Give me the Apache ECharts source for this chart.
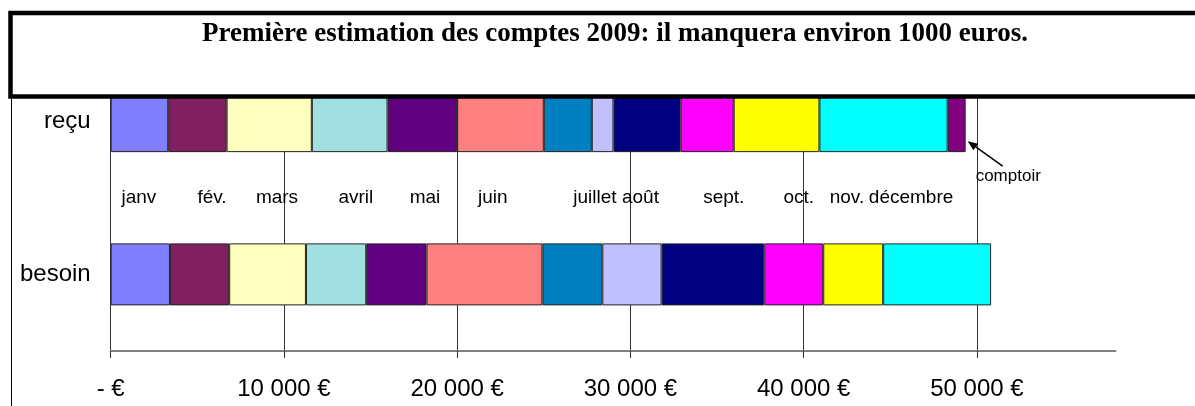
<!DOCTYPE html>
<html>
<head>
<meta charset="utf-8">
<title>Comptes 2009</title>
<script src="https://cdn.jsdelivr.net/npm/echarts@6/dist/echarts.min.js"></script>
<style>
  html, body { margin: 0; padding: 0; background: #fff; }
  #container { width: 1195px; height: 406px; }
</style>
</head>
<body>
<div id="container"></div>
<script>
// données
var categories = ['besoin', 'reçu'];
var months = ['janv', 'fév.', 'mars', 'avril', 'mai', 'juin', 'juillet', 'août', 'sept.', 'oct.', 'nov.', 'décembre'];
var besoin = [3420, 3420, 4430, 3480, 3480, 6690, 3460, 3420, 5930, 3400, 3460, 6230];
var recu = [3320, 3370, 4920, 4370, 4020, 5000, 2770, 1250, 3880, 3060, 4950, 7400];
var comptoir = 1040;
// position des étiquettes de mois (en euros, sur l'axe)
var monthLabelX = [1630, 5850, 9600, 14150, 18140, 22060, 27950, 30580, 35390, 39720, 42500, 46200];
var tickValues = [0, 10000, 20000, 30000, 40000, 50000];

var colors = ['#8080ff', '#802060', '#ffffc0', '#a0e0e0', '#600080', '#ff8080',
              '#0080c0', '#c0c0ff', '#000080', '#ff00ff', '#ffff00', '#00ffff'];
var comptoirColor = '#800080';

function euro(v) {
    if (v === 0) return '- €';
    return String(v).replace(/\B(?=(\d{3})+(?!\d))/g, ' ') + ' €';
}

var chart = echarts.init(document.getElementById('container'));

var series = months.map(function (m, i) {
    return {
        name: m,
        type: 'bar',
        stack: 'total',
        barWidth: 62,
        data: [besoin[i], recu[i]],
        itemStyle: { color: colors[i], borderColor: '#222', borderWidth: 1 }
    };
});
series.push({
    name: 'comptoir',
    type: 'bar',
    stack: 'total',
    barWidth: 62,
    data: ['-', comptoir],
    itemStyle: { color: comptoirColor, borderColor: '#222', borderWidth: 1 }
});
series.push({
    type: 'scatter',
    yAxisIndex: 1,
    symbolSize: 1,
    silent: true,
    itemStyle: { color: 'transparent' },
    data: months.map(function (m, i) { return [monthLabelX[i], 1, m]; }),
    label: {
        show: true,
        position: 'inside',
        formatter: function (p) { return p.data[2]; },
        color: '#000',
        opacity: 1,
        fontSize: 19,
        fontFamily: 'Liberation Sans'
    }
});

var option = {
    animation: false,
    backgroundColor: '#fff',
    textStyle: { fontFamily: 'Liberation Sans' },
    grid: { left: 110.7, right: 79.5, top: 44.5, bottom: 55 },
    xAxis: {
        type: 'value',
        min: 0,
        max: 58000,
        interval: 10000,
        axisLine: { show: true, onZero: false, lineStyle: { color: '#808080', width: 2 } },
        axisTick: { show: true, customValues: tickValues, length: 7, lineStyle: { color: '#333' } },
        axisLabel: {
            customValues: tickValues,
            formatter: euro,
            fontSize: 24,
            color: '#000',
            margin: 26
        },
        splitLine: { show: true, lineStyle: { color: '#333', width: 1 } }
    },
    yAxis: [{
        type: 'category',
        data: categories,
        axisLine: { show: true, lineStyle: { color: '#333', width: 1 } },
        axisTick: { show: false },
        axisLabel: { fontSize: 24, color: '#000', margin: 20 }
    }, {
        type: 'value',
        min: 0,
        max: 2,
        show: false
    }],
    series: series
};
chart.setOption(option);

// flèche vers "comptoir"
var total = recu.reduce(function (a, b) { return a + b; }, 0) + comptoir;
var end = chart.convertToPixel({ xAxisIndex: 0, yAxisIndex: 0 }, [total, 'reçu']);
var tip = [end[0] + 2, end[1] + 20];
var tail = [tip[0] + 35, tip[1] + 25];
var len = Math.sqrt(35 * 35 + 25 * 25);
var d = [(tip[0] - tail[0]) / len, (tip[1] - tail[1]) / len];
var nrm = [-d[1], d[0]];
var base = [tip[0] - d[0] * 10, tip[1] - d[1] * 10];

chart.setOption({
    graphic: [
        {
            type: 'rect', z: 100,
            shape: { x: 10.5, y: 12.9, width: 1200, height: 83.6 },
            style: { fill: '#fff', stroke: '#000', lineWidth: 4.5 }
        },
        {
            type: 'text', z: 101, x: 615, y: 34,
            style: {
                text: 'Première estimation des comptes 2009: il manquera environ 1000 euros.',
                fill: '#000',
                font: 'bold 27px "Liberation Serif"',
                textAlign: 'center',
                textVerticalAlign: 'middle'
            }
        },
        {
            type: 'line', z: 100,
            shape: { x1: 11.5, y1: 98, x2: 11.5, y2: 406 },
            style: { stroke: '#000', lineWidth: 1 }
        },
        {
            type: 'line', z: 100,
            shape: { x1: tail[0], y1: tail[1], x2: base[0], y2: base[1] },
            style: { stroke: '#000', lineWidth: 1.5 }
        },
        {
            type: 'polygon', z: 100,
            shape: { points: [tip, [base[0] + nrm[0] * 4, base[1] + nrm[1] * 4], [base[0] - nrm[0] * 4, base[1] - nrm[1] * 4]] },
            style: { fill: '#000' }
        },
        {
            type: 'text', z: 100, x: tip[0] + 8, y: tip[1] + 35,
            style: {
                text: 'comptoir', fill: '#000',
                font: '17px "Liberation Sans"',
                textVerticalAlign: 'middle'
            }
        }
    ]
});
</script>
</body>
</html>
